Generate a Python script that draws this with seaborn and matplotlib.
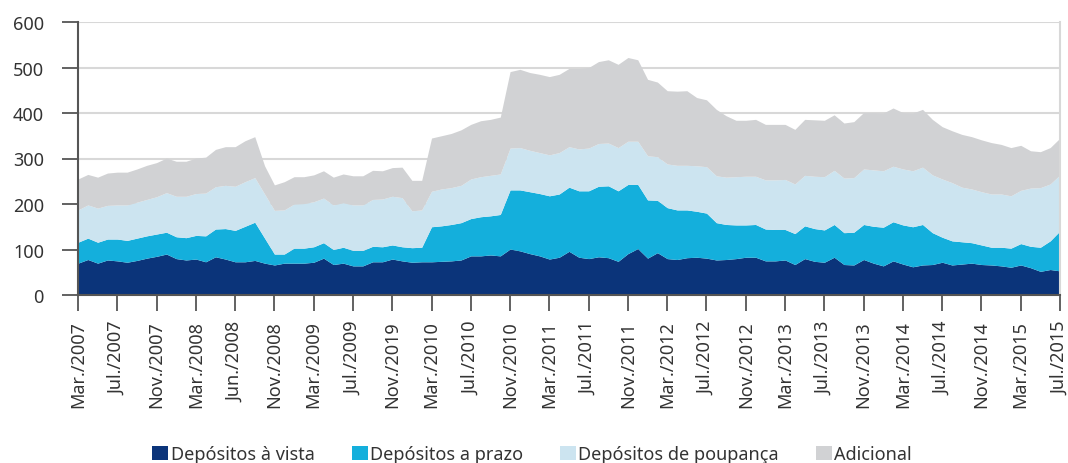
import numpy as np
import pandas as pd
import matplotlib
matplotlib.use("Agg")
import matplotlib.pyplot as plt
import seaborn as sns
from matplotlib.patches import Patch

# ---------------- data ----------------
tick_labels = ["Mar./2007", "Jul./2007", "Nov./2007", "Mar./2008", "Jun./2008",
               "Nov./2008", "Mar./2009", "Jul./2009", "Nov./2019", "Mar./2010",
               "Jul./2010", "Nov./2010", "Mar./2011", "Jul./2011", "Nov./2011",
               "Mar./2012", "Jul./2012", "Nov./2012", "Mar./2013", "Jul./2013",
               "Nov./2013", "Mar./2014", "Jul./2014", "Nov./2014", "Mar./2015",
               "Jul./2015"]

series_names = ["Depósitos à vista", "Depósitos a prazo",
                "Depósitos de poupança", "Adicional"]

vista = [70, 78, 70, 77, 75, 72, 76, 81, 85, 90,
         80, 77, 79, 73, 84, 79, 73, 73, 76, 70,
         66, 70, 70, 70, 72, 81, 67, 70, 64, 64,
         73, 73, 79, 75, 72, 73, 73, 74, 75, 77,
         86, 86, 88, 86, 101, 97, 91, 86, 79, 83,
         96, 83, 80, 84, 82, 74, 91, 102, 81, 93,
         80, 78, 82, 83, 81, 77, 78, 80, 83, 83,
         75, 75, 77, 67, 80, 74, 72, 83, 67, 66,
         78, 70, 64, 75, 68, 62, 66, 67, 72, 66,
         68, 70, 67, 66, 64, 61, 66, 60, 52, 56,
         53]

prazo = [46, 47, 46, 46, 48, 48, 49, 49, 49, 48,
         48, 49, 52, 57, 61, 67, 69, 78, 84, 55,
         24, 20, 33, 33, 34, 34, 33, 35, 34, 34,
         34, 33, 31, 31, 32, 32, 77, 78, 80, 82,
         82, 86, 86, 91, 130, 134, 136, 137, 139, 139,
         141, 146, 149, 155, 158, 155, 152, 141, 128, 115,
         112, 109, 105, 101, 99, 82, 77, 74, 71, 72,
         70, 69, 67, 68, 72, 72, 71, 72, 70, 72,
         77, 81, 85, 86, 86, 88, 89, 70, 55, 53,
         49, 45, 43, 39, 41, 42, 47, 47, 53, 63,
         88]

poupanca = [71, 73, 75, 74, 75, 78, 79, 80, 82, 87,
            89, 91, 92, 94, 93, 95, 97, 98, 98, 97,
            96, 97, 97, 98, 99, 98, 98, 98, 100, 100,
            103, 105, 107, 108, 81, 82, 78, 81, 81, 82,
            87, 88, 89, 89, 92, 93, 91, 90, 90, 91,
            89, 92, 94, 94, 94, 95, 95, 95, 97, 96,
            96, 98, 98, 100, 102, 103, 104, 106, 107, 106,
            108, 109, 110, 109, 111, 115, 117, 119, 120, 120,
            122, 124, 124, 122, 123, 123, 126, 127, 128, 128,
            120, 118, 117, 117, 117, 115, 117, 128, 131, 125,
            123]

adicional = [68, 67, 68, 71, 72, 72, 73, 75, 75, 76,
             77, 77, 78, 79, 82, 85, 87, 90, 90, 62,
             56, 62, 60, 59, 59, 60, 61, 63, 64, 64,
             64, 62, 63, 67, 67, 65, 117, 117, 119, 122,
             120, 123, 123, 125, 168, 172, 171, 172, 172, 172,
             172, 177, 177, 180, 183, 183, 184, 179, 168, 164,
             161, 163, 164, 150, 147, 146, 135, 124, 123, 125,
             122, 122, 121, 120, 123, 124, 124, 122, 121, 123,
             124, 126, 127, 128, 124, 127, 127, 122, 115, 114,
             116, 115, 114, 113, 109, 106, 99, 82, 79, 80,
             81]

colors = ["#0B347A", "#14AFDC", "#CCE4F0", "#D1D2D4"]

# ---------------- style ----------------
sns.set_style("white")
plt.rcParams["font.family"] = ["Noto Sans", "DejaVu Sans"]
text_color = "#333333"

df = pd.DataFrame({series_names[0]: vista, series_names[1]: prazo,
                   series_names[2]: poupanca, series_names[3]: adicional})
x = np.arange(len(df))

fig = plt.figure(figsize=(10.68, 4.64), dpi=100)
ax = fig.add_axes([78 / 1068, 1 - 296 / 464, (1060 - 78) / 1068, (296 - 23) / 464])

ax.stackplot(x, *[df[c].values for c in series_names], colors=colors,
             labels=series_names, linewidth=0)

ax.set_xlim(0, len(df) - 1)
ax.set_ylim(0, 600)
ax.set_yticks(range(0, 601, 100))
ax.set_xticks(np.arange(0, len(df), 4))
ax.set_xticklabels(tick_labels, rotation=90)

ax.set_axisbelow(True)
ax.yaxis.grid(True, color="#D8D8D8", linewidth=1.5)
ax.xaxis.grid(False)

for s in ["left", "bottom"]:
    ax.spines[s].set_color("#555555")
    ax.spines[s].set_linewidth(1.5)
ax.spines["top"].set_visible(False)
ax.spines["right"].set_color("#D8D8D8")
ax.spines["right"].set_linewidth(1.5)

ax.tick_params(axis="y", direction="out", length=11.5, width=1.3, color="#555555",
               pad=13, labelsize=13, labelcolor=text_color, left=True)
ax.tick_params(axis="x", direction="out", length=11.3, width=1.3, color="#555555",
               pad=7, labelsize=13, labelcolor=text_color, bottom=True)

handles = [Patch(facecolor=c, edgecolor="none") for c in colors]
fig.legend(handles, series_names, loc="center",
           bbox_to_anchor=(532 / 1068, 1 - 455 / 464),
           ncol=4, frameon=False, fontsize=13, handlelength=0.89, handleheight=0.85,
           handletextpad=0.12, columnspacing=2.05, labelcolor=text_color,
           borderaxespad=0, borderpad=0)

fig.savefig("out.png", dpi=100)
